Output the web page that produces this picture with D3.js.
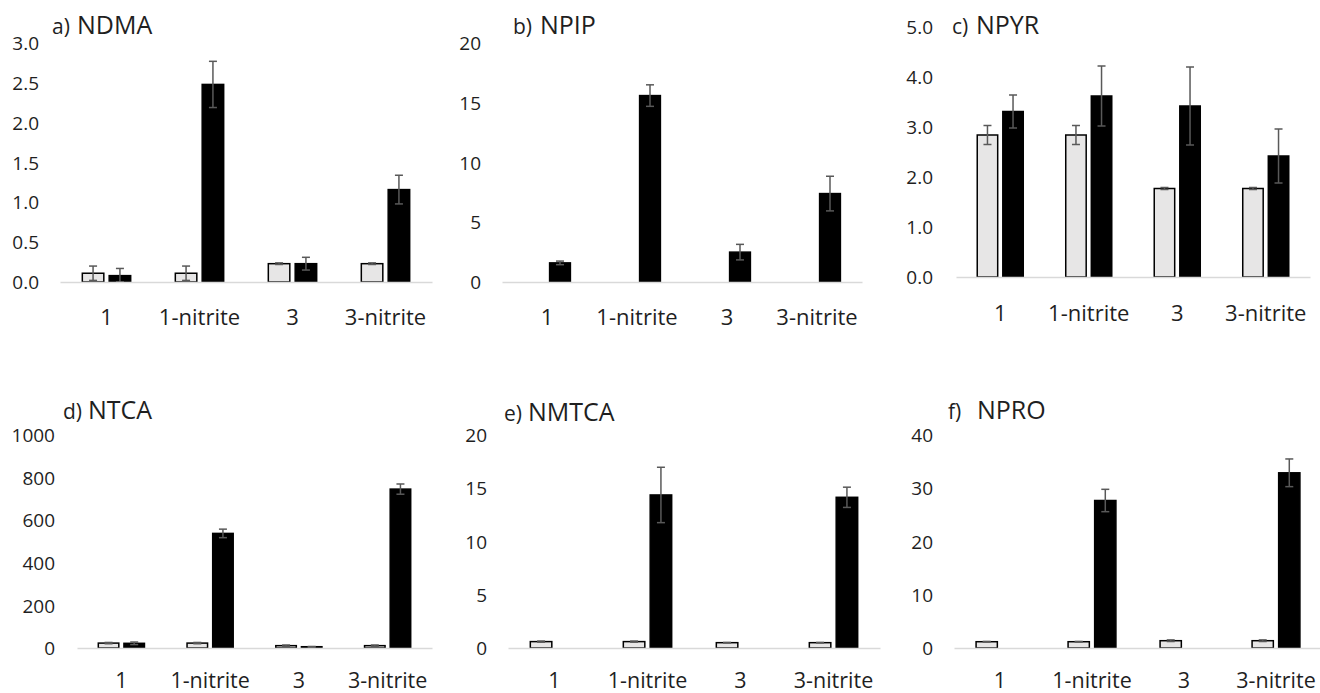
<!DOCTYPE html>
<html>
<head>
<meta charset="utf-8">
<script src="https://cdn.jsdelivr.net/npm/d3@7"></script>
<style>
  html, body { margin: 0; padding: 0; background: #fff; }
  svg { display: block; }
  text { font-family: "Open Sans", sans-serif; fill: #1f1f1f; }
</style>
</head>
<body>
<svg id="chart" width="1320" height="693"></svg>
<script>
// ---------- data ----------
const categories = ["1", "1-nitrite", "3", "3-nitrite"];

const panelLetters = ["a)", "b)", "c)", "d)", "e)", "f)"];
const panelNames = ["NDMA", "NPIP", "NPYR", "NTCA", "NMTCA", "NPRO"];

const ndmaLight = [0.11, 0.11, 0.23, 0.23];
const ndmaLightErr = [0.09, 0.09, 0.01, 0.01];
const ndmaDark = [0.08, 2.48, 0.23, 1.16];
const ndmaDarkErr = [0.09, 0.29, 0.08, 0.18];

const npipLight = [0, 0, 0, 0];
const npipLightErr = [0, 0, 0, 0];
const npipDark = [1.6, 15.6, 2.5, 7.4];
const npipDarkErr = [0.15, 0.9, 0.65, 1.45];

const npyrLight = [2.84, 2.84, 1.77, 1.77];
const npyrLightErr = [0.19, 0.19, 0.02, 0.02];
const npyrDark = [3.31, 3.62, 3.42, 2.42];
const npyrDarkErr = [0.33, 0.6, 0.78, 0.54];

const ntcaLight = [23, 23, 11, 11];
const ntcaLightErr = [3, 3, 3, 3];
const ntcaDark = [22, 538, 6, 746];
const ntcaDarkErr = [6, 20, 1, 24];

const nmtcaLight = [0.6, 0.6, 0.5, 0.5];
const nmtcaLightErr = [0.05, 0.05, 0.02, 0.02];
const nmtcaDark = [0, 14.37, 0, 14.15];
const nmtcaDarkErr = [0, 2.6, 0, 0.95];

const nproLight = [1.18, 1.18, 1.37, 1.37];
const nproLightErr = [0.05, 0.05, 0.15, 0.15];
const nproDark = [0, 27.7, 0, 32.9];
const nproDarkErr = [0, 2.1, 0, 2.6];

const yTicksA = [0, 0.5, 1.0, 1.5, 2.0, 2.5, 3.0];
const yTicksB = [0, 5, 10, 15, 20];
const yTicksC = [0, 1, 2, 3, 4, 5];
const yTicksD = [0, 200, 400, 600, 800, 1000];
const yTicksE = [0, 5, 10, 15, 20];
const yTicksF = [0, 10, 20, 30, 40];

// ---------- layout ----------
const panels = [
  { light: ndmaLight, lightErr: ndmaLightErr, dark: ndmaDark, darkErr: ndmaDarkErr, ticks: yTicksA, fmt: ".1f",
    x0: 60, x1: 432, yBase: 282, yTop: 43, tickRight: 39, catY: 317, catSize: 22, tx: 52, nx: 77, ty: 34 },
  { light: npipLight, lightErr: npipLightErr, dark: npipDark, darkErr: npipDarkErr, ticks: yTicksB, fmt: "d",
    x0: 502, x1: 862, yBase: 282, yTop: 43, tickRight: 481, catY: 317, catSize: 22, tx: 513, nx: 540, ty: 34 },
  { light: npyrLight, lightErr: npyrLightErr, dark: npyrDark, darkErr: npyrDarkErr, ticks: yTicksC, fmt: ".1f",
    x0: 956, x1: 1310, yBase: 277, yTop: 27, tickRight: 933, catY: 313, catSize: 22, tx: 952, nx: 976, ty: 34 },
  { light: ntcaLight, lightErr: ntcaLightErr, dark: ntcaDark, darkErr: ntcaDarkErr, ticks: yTicksD, fmt: "d",
    x0: 77, x1: 432, yBase: 648, yTop: 435, tickRight: 55, catY: 680, catSize: 21.5, tx: 63, nx: 88, ty: 419 },
  { light: nmtcaLight, lightErr: nmtcaLightErr, dark: nmtcaDark, darkErr: nmtcaDarkErr, ticks: yTicksE, fmt: "d",
    x0: 508, x1: 880, yBase: 648, yTop: 435, tickRight: 487, catY: 680, catSize: 21.5, tx: 504, nx: 528, ty: 421 },
  { light: nproLight, lightErr: nproLightErr, dark: nproDark, darkErr: nproDarkErr, ticks: yTicksF, fmt: "d",
    x0: 954, x1: 1322, yBase: 648, yTop: 435, tickRight: 933, catY: 680, catSize: 21.5, tx: 948, nx: 977, ty: 419 }
];

const svg = d3.select("#chart");

panels.forEach((p, pi) => {
  const g = svg.append("g");
  const yMax = p.ticks[p.ticks.length - 1];
  const y = d3.scaleLinear().domain([0, yMax]).range([p.yBase, p.yTop]);
  const x = d3.scaleBand().domain(categories).range([p.x0, p.x1]).padding(0);
  const groupW = x.bandwidth() * 0.52;
  const sub = d3.scaleBand().domain(["light", "dark"]).range([-groupW / 2, groupW / 2])
    .paddingInner(0.2).paddingOuter(0);

  // y axis (labels only)
  const yAxis = d3.axisLeft(y).tickValues(p.ticks).tickSize(0).tickPadding(0)
    .tickFormat(d3.format(p.fmt));
  const ya = g.append("g").attr("transform", `translate(${p.tickRight},0)`).call(yAxis);
  ya.select(".domain").remove();
  ya.selectAll("text").attr("x", 0).attr("dy", "0.35em")
    .style("font-family", "'Open Sans', sans-serif").style("font-size", "19px").attr("fill", "#1f1f1f");

  // bars
  const rows = categories.map((c, i) => ({
    c,
    items: [
      { key: "light", v: p.light[i], e: p.lightErr[i] },
      { key: "dark", v: p.dark[i], e: p.darkErr[i] }
    ]
  }));
  const grp = g.selectAll(".grp").data(rows).enter().append("g")
    .attr("transform", d => `translate(${x(d.c) + x.bandwidth() / 2},0)`);
  const items = grp.selectAll(".bar").data(d => d.items.filter(it => it.v > 0)).enter();
  items.append("rect")
    .attr("x", d => sub(d.key))
    .attr("width", sub.bandwidth())
    .attr("y", d => y(d.v))
    .attr("height", d => y(0) - y(d.v))
    .attr("fill", d => d.key === "light" ? "#e7e6e6" : "#000")
    .attr("stroke", "#000").attr("stroke-width", 1.5);

  // error bars
  const eb = grp.selectAll(".err").data(d => d.items.filter(it => it.v > 0 && it.e > 0)).enter()
    .append("g").attr("stroke", "#595959").attr("stroke-width", 1.5).attr("fill", "none");
  const cx = d => sub(d.key) + sub.bandwidth() / 2;
  eb.append("line").attr("x1", cx).attr("x2", cx)
    .attr("y1", d => y(d.v + d.e)).attr("y2", d => y(Math.max(0, d.v - d.e)));
  eb.append("line").attr("x1", d => cx(d) - 4).attr("x2", d => cx(d) + 4)
    .attr("y1", d => y(d.v + d.e)).attr("y2", d => y(d.v + d.e));
  eb.append("line").attr("x1", d => cx(d) - 4).attr("x2", d => cx(d) + 4)
    .attr("y1", d => y(Math.max(0, d.v - d.e))).attr("y2", d => y(Math.max(0, d.v - d.e)));

  // x axis
  const xAxis = d3.axisBottom(x).tickSize(0).tickPadding(0);
  const xa = g.append("g").attr("transform", `translate(0,${p.yBase})`).call(xAxis);
  xa.select(".domain").attr("stroke", "#d9d9d9").attr("stroke-width", 1.5);
  xa.selectAll("text").attr("y", p.catY - p.yBase).attr("dy", "0.35em")
    .style("font-family", "'Open Sans', sans-serif").style("font-size", p.catSize + "px").attr("fill", "#1f1f1f");

  // title
  const t = g.append("text").attr("x", p.tx).attr("y", p.ty);
  t.append("tspan").text(panelLetters[pi]).style("font-size", "21px");
  t.append("tspan").attr("x", p.nx).text(panelNames[pi]).style("font-size", "25px");
});
</script>
</body>
</html>
